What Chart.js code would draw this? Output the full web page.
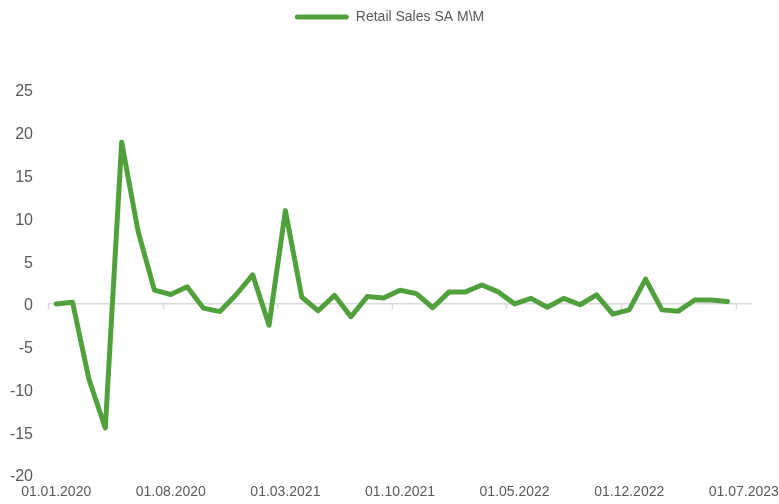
<!DOCTYPE html>
<html>
<head>
<meta charset="utf-8">
<script src="https://cdn.jsdelivr.net/npm/chart.js@4/dist/chart.umd.min.js"></script>
<style>
  html, body { margin: 0; padding: 0; background: #ffffff; }
  #wrap { width: 779px; height: 504px; position: relative; }
</style>
</head>
<body>
<div id="wrap"><canvas id="c" width="779" height="504"></canvas></div>
<script>
// ---- data ----
const categories = [
  "01.01.2020","01.02.2020","01.03.2020","01.04.2020","01.05.2020","01.06.2020",
  "01.07.2020","01.08.2020","01.09.2020","01.10.2020","01.11.2020","01.12.2020",
  "01.01.2021","01.02.2021","01.03.2021","01.04.2021","01.05.2021","01.06.2021",
  "01.07.2021","01.08.2021","01.09.2021","01.10.2021","01.11.2021","01.12.2021",
  "01.01.2022","01.02.2022","01.03.2022","01.04.2022","01.05.2022","01.06.2022",
  "01.07.2022","01.08.2022","01.09.2022","01.10.2022","01.11.2022","01.12.2022",
  "01.01.2023","01.02.2023","01.03.2023","01.04.2023","01.05.2023","01.06.2023",
  "01.07.2023"
];
const retailSalesMoM = [
  0.0, 0.2, -8.8, -14.5, 18.9, 8.5,
  1.6, 1.1, 2.0, -0.5, -0.9, 1.1,
  3.4, -2.5, 10.9, 0.8, -0.8, 1.0,
  -1.5, 0.85, 0.7, 1.6, 1.2, -0.45,
  1.4, 1.4, 2.2, 1.4, 0.0, 0.65,
  -0.4, 0.65, -0.1, 1.05, -1.2, -0.7,
  2.9, -0.7, -0.85, 0.45, 0.45, 0.27,
  null
];
const seriesName = "Retail Sales SA M\\M";
const yTicks = [-20, -15, -10, -5, 0, 5, 10, 15, 20, 25];
const labelEvery = 7;

// ---- style ----
const GREEN = "#50a03c";
const TEXT = "#595959";
const AXIS = "#d9d9d9";
const FONT = "'Liberation Sans', Arial, sans-serif";

const PLOT_TOP = 90, PLOT_LEFT = 48, PLOT_RIGHT = 752, PLOT_BOTTOM = 475;
const W = 779, H = 504;

const legendSpacer = {
  id: "legendSpacer",
  beforeInit(chart) {
    const origFit = chart.legend.fit;
    chart.legend.fit = function () {
      origFit.call(this);
      this.height = PLOT_TOP;
    };
  }
};

const zeroAxisTicks = {
  id: "zeroAxisTicks",
  beforeDatasetsDraw(chart) {
    const xs = chart.scales.x, ys = chart.scales.y;
    const ctx = chart.ctx;
    const half = (xs.getPixelForValue(1) - xs.getPixelForValue(0)) / 2;
    const y0 = ys.getPixelForValue(0);
    ctx.save();
    ctx.strokeStyle = AXIS;
    ctx.lineWidth = 1.5;
    ctx.beginPath();
    for (let k = 0; k < categories.length; k += labelEvery) {
      const x = Math.round(xs.getPixelForValue(k) - half) + 0.5;
      ctx.moveTo(x, y0);
      ctx.lineTo(x, y0 + 5);
    }
    ctx.stroke();
    ctx.restore();
  }
};

new Chart(document.getElementById("c"), {
  type: "line",
  data: {
    labels: categories,
    datasets: [{
      label: seriesName,
      data: retailSalesMoM,
      borderColor: GREEN,
      backgroundColor: GREEN,
      borderWidth: 5,
      borderJoinStyle: "round",
      borderCapStyle: "round",
      pointRadius: 0,
      pointHoverRadius: 0,
      tension: 0,
      fill: false,
      spanGaps: false
    }]
  },
  options: {
    responsive: false,
    animation: false,
    devicePixelRatio: 1,
    layout: { padding: { left: 0, right: 0, top: 0, bottom: 0 } },
    plugins: {
      tooltip: { enabled: false },
      legend: {
        display: true,
        position: "top",
        align: "center",
        labels: {
          font: { family: FONT, size: 14 },
          color: TEXT,
          boxWidth: 54,
          boxHeight: 5,
          padding: 10,
          useBorderRadius: true,
          borderRadius: 2.5,
          generateLabels() {
            return [{
              text: seriesName,
              fillStyle: GREEN,
              strokeStyle: GREEN,
              lineWidth: 0,
              fontColor: TEXT,
              hidden: false,
              datasetIndex: 0,
              borderRadius: 2.5
            }];
          }
        }
      }
    },
    scales: {
      x: {
        type: "category",
        offset: true,
        border: { display: false },
        grid: { display: false, drawTicks: false },
        afterFit(scale) {
          scale.height = H - PLOT_BOTTOM;
          scale.paddingLeft = 0;
          scale.paddingRight = W - PLOT_RIGHT;
        },
        ticks: {
          autoSkip: false,
          maxRotation: 0,
          minRotation: 0,
          padding: 9,
          color: TEXT,
          font: { family: FONT, size: 14 },
          callback(value, index) {
            return index % labelEvery === 0 ? categories[index] : null;
          }
        }
      },
      y: {
        min: yTicks[0],
        max: yTicks[yTicks.length - 1],
        afterBuildTicks(scale) {
          scale.ticks = yTicks.map(v => ({ value: v }));
        },
        afterFit(scale) {
          scale.width = PLOT_LEFT;
          scale.paddingTop = 0;
          scale.paddingBottom = 0;
        },
        border: { display: false },
        grid: {
          drawTicks: false,
          lineWidth: ctx => (ctx.tick && ctx.tick.value === 0 ? 1.5 : 0),
          color: ctx => (ctx.tick && ctx.tick.value === 0 ? AXIS : "rgba(0,0,0,0)")
        },
        ticks: {
          padding: 15,
          labelOffset: 2,
          color: TEXT,
          font: { family: FONT, size: 16 }
        }
      }
    }
  },
  plugins: [legendSpacer, zeroAxisTicks]
});
</script>
</body>
</html>
